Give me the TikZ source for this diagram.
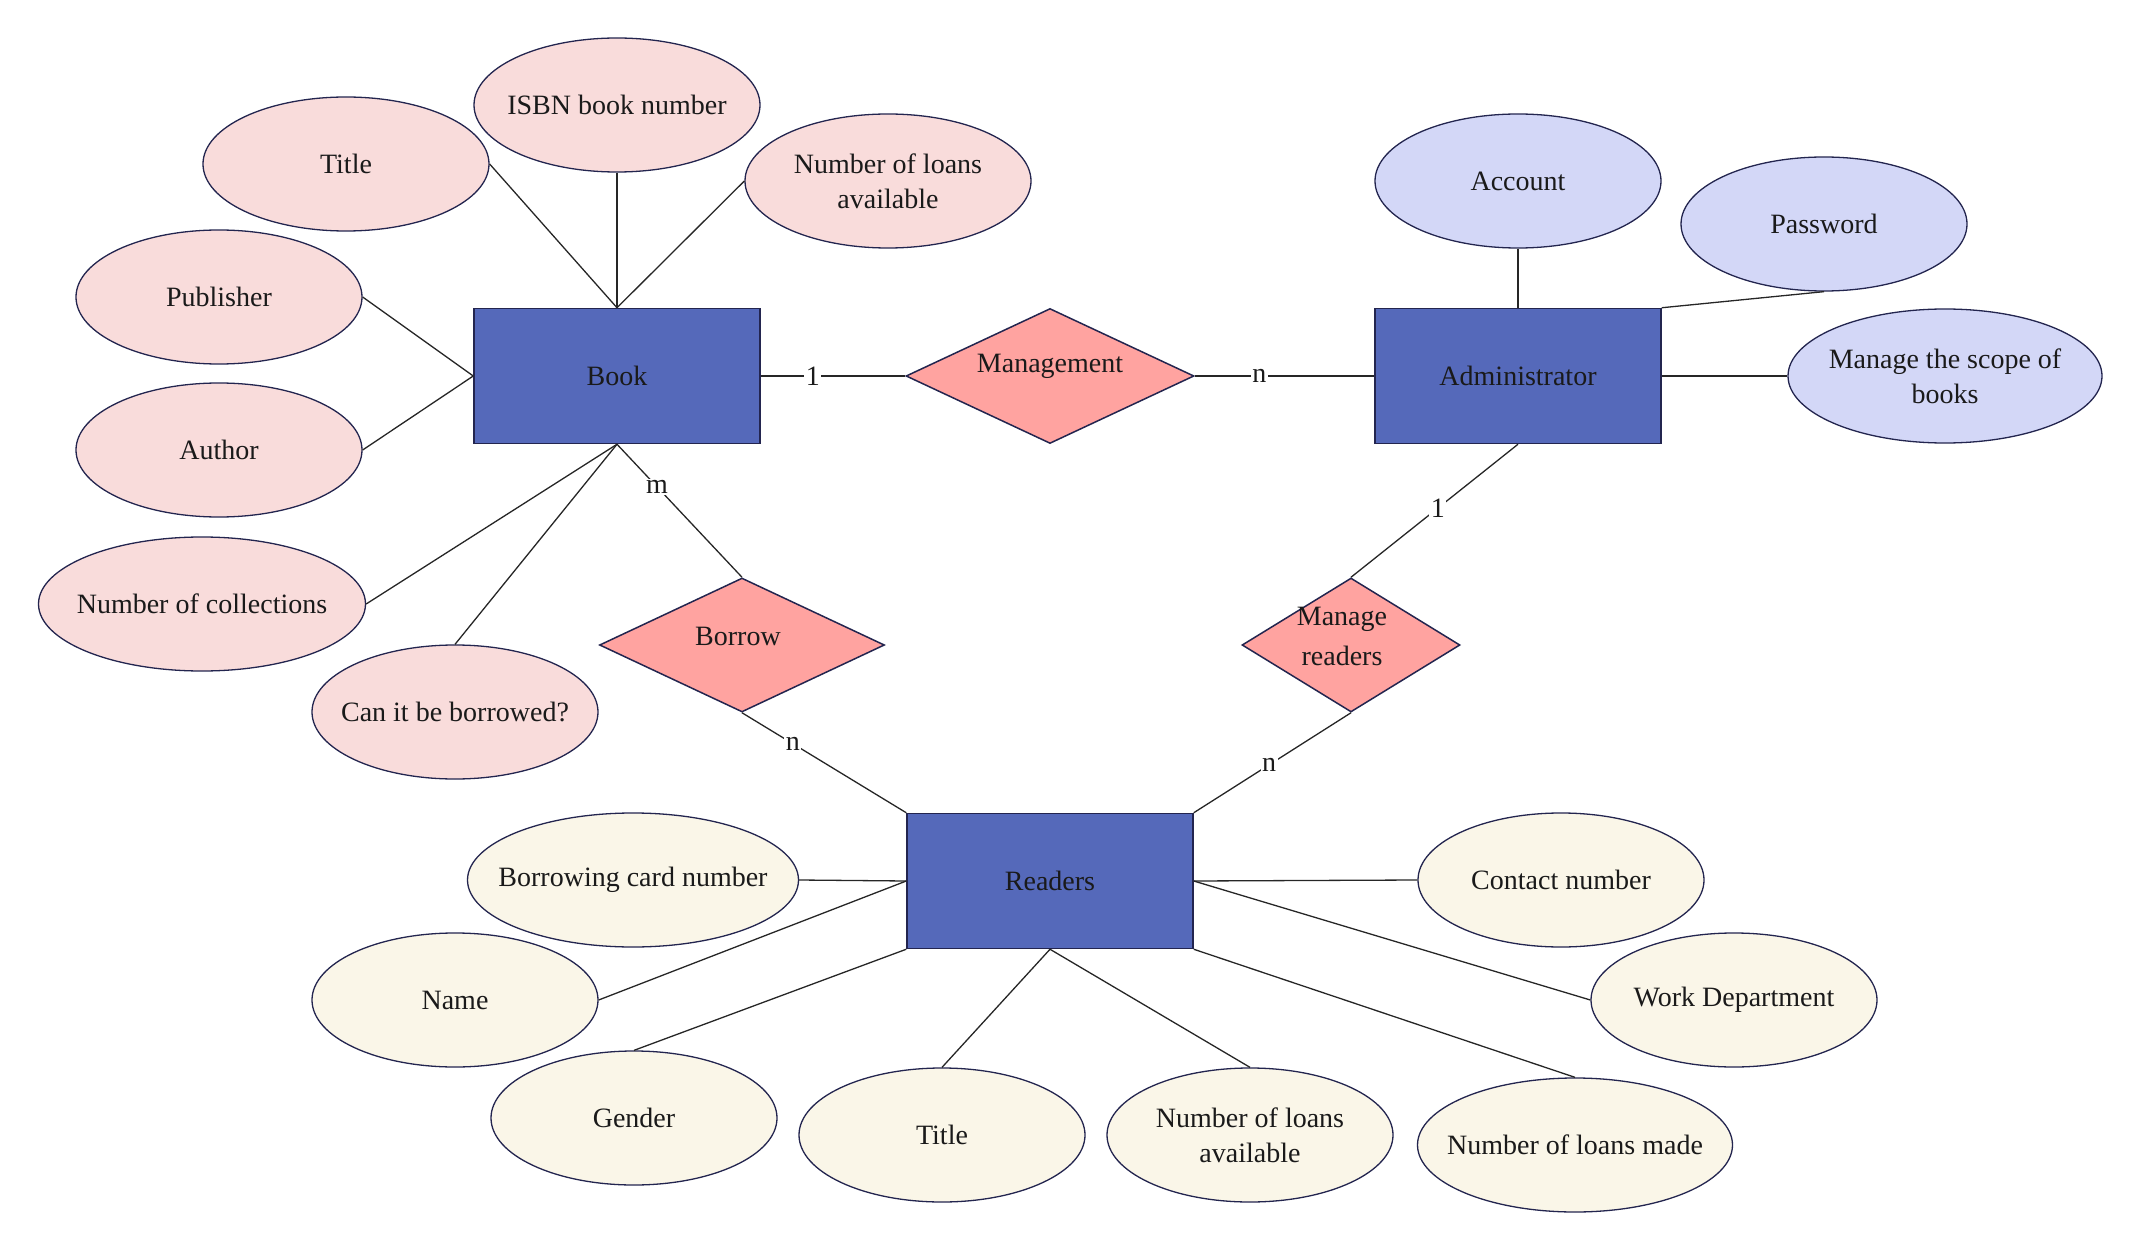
\documentclass[tikz,border=0pt]{standalone}
\usepackage{fontspec}
\setmainfont{Liberation Serif}
\usetikzlibrary{shapes.geometric}
\definecolor{entfill}{HTML}{5569BA}
\definecolor{edgecol}{HTML}{23254F}
\definecolor{relfill}{HTML}{FFA3A0}
\definecolor{bookattr}{HTML}{F9DCDB}
\definecolor{admattr}{HTML}{D3D7F7}
\definecolor{rdrattr}{HTML}{FAF6E8}
\definecolor{txtcol}{HTML}{1A1A1A}
\tikzset{
  every node/.style={font=\fontsize{28}{35}\selectfont, text=txtcol},
  lbl/.style={align=center, inner sep=0pt, font=\fontsize{28}{35}\selectfont, text=txtcol},
  entity/.style={draw=edgecol, line width=1.5pt, fill=entfill, rectangle, minimum width=286pt, minimum height=135pt, inner sep=0pt},
  rel/.style={draw=edgecol, line width=1.5pt, fill=relfill, diamond, inner sep=0pt},
  attr/.style={draw=edgecol, line width=1.3pt, ellipse, minimum width=286pt, minimum height=134pt, inner sep=0pt},
  battr/.style={attr, fill=bookattr, label={[lbl]center:#1}},
  aattr/.style={attr, fill=admattr, label={[lbl]center:#1}},
  rattr/.style={attr, fill=rdrattr, label={[lbl]center:#1}},
  conn/.style={draw=black!85, line width=1.3pt},
  card/.style={fill=white, inner sep=1.5pt, font=\fontsize{28}{30}\selectfont}
}
\begin{document}
\begin{tikzpicture}[x=1pt, y=-1pt]
\useasboundingbox (0,0) rectangle (2137,1249);
% entities
\node[entity] (book) at (617,376) {Book};
\node[entity] (admin) at (1518,376) {Administrator};
\node[entity] (readers) at (1050,881) {Readers};
% relationships
\node[rel, minimum width=288pt, minimum height=135pt] (mgmt) at (1050,376) {};
\node (mgmtT) at (1050,366) {Management};
\node[rel, minimum width=285pt, minimum height=134pt] (borrow) at (742,645) {};
\node (borrowT) at (738,636) {Borrow};
\node[rel, minimum width=218pt, minimum height=134pt] (mrd) at (1351,645) {};
\node[align=center, font=\fontsize{28}{40}\selectfont] (mrdT) at (1342,636) {Manage\\readers};
% book attributes
\node[battr={Title}] (title) at (346,164) {};
\node[battr={ISBN book number}] (isbn) at (617,105) {};
\node[battr={Number of loans\\available}] (bloans) at (888,181) {};
\node[battr={Publisher}] (pub) at (219,297) {};
\node[battr={Author}] (author) at (219,450) {};
\node[battr={Number of collections}, minimum width=327pt] (coll) at (202,604) {};
\node[battr={Can it be borrowed?}] (canb) at (455,712) {};
% admin attributes
\node[aattr={Account}] (account) at (1518,181) {};
\node[aattr={Password}] (pwd) at (1824,224) {};
\node[aattr={Manage the scope of\\books}, minimum width=314pt] (scope) at (1945,376) {};
% reader attributes
\node[rattr={Borrowing card number}, minimum width=331pt] (card) at (633,880) {};
\node[rattr={Name}] (name) at (455,1000) {};
\node[rattr={Gender}] (gender) at (634,1118) {};
\node[rattr={Title}] (rtitle) at (942,1135) {};
\node[rattr={Number of loans\\available}] (rloans) at (1250,1135) {};
\node[rattr={Number of loans made}, minimum width=315pt] (made) at (1575,1145) {};
\node[rattr={Contact number}] (contact) at (1561,880) {};
\node[rattr={Work Department}] (work) at (1734,1000) {};
% book connectors
\draw[conn] (title.east) -- (book.north);
\draw[conn] (isbn.south) -- (book.north);
\draw[conn] (bloans.west) -- (book.north);
\draw[conn] (pub.east) -- (book.west);
\draw[conn] (author.east) -- (book.west);
\draw[conn] (coll.east) -- (book.south);
\draw[conn] (canb.north) -- (book.south);
% admin connectors
\draw[conn] (account.south) -- (admin.north);
\draw[conn] (pwd.south) -- (admin.north east);
\draw[conn] (admin.east) -- (scope.west);
% reader connectors
\draw[conn] (card.east) -- (readers.west);
\draw[conn] (name.east) -- (readers.west);
\draw[conn] (gender.north) -- (readers.south west);
\draw[conn] (rtitle.north) -- (readers.south);
\draw[conn] (rloans.north) -- (readers.south);
\draw[conn] (made.north) -- (readers.south east);
\draw[conn] (contact.west) -- (readers.east);
\draw[conn] (work.west) -- (readers.east);
% relationship connectors with cardinalities
\draw[conn] (book.east) -- node[card, pos=0.36] (c1) {1} (mgmt.west);
\draw[conn] (mgmt.east) -- node[card, pos=0.36] (c2) {n} (admin.west);
\draw[conn] (book.south) -- node[card, pos=0.32] (c3) {m} (borrow.north);
\draw[conn] (borrow.south) -- node[card, pos=0.31] (c4) {n} (readers.north west);
\draw[conn] (admin.south) -- node[card, pos=0.48] (c5) {1} (mrd.north);
\draw[conn] (mrd.south) -- node[card, pos=0.52] (c6) {n} (readers.north east);
\end{tikzpicture}
\end{document}
